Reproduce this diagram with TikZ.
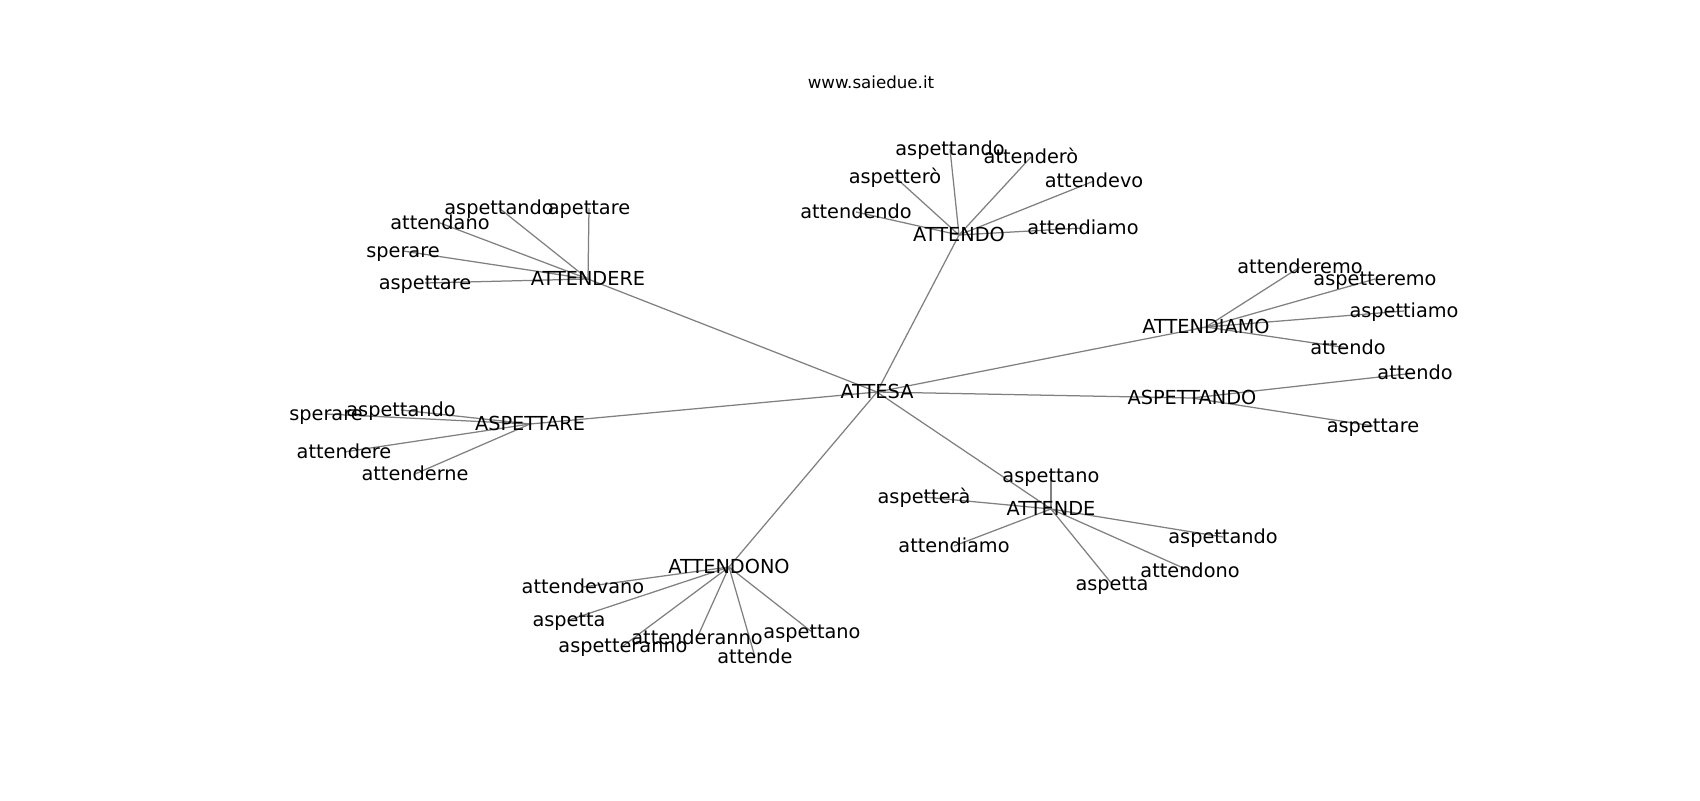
\documentclass[tikz,border=0pt]{standalone}
\usepackage{fontspec}
\setmainfont{DejaVu Sans}
\usetikzlibrary{backgrounds}
\tikzset{
  word/.style={inner sep=0pt, text height=1.1em, text depth=0.17em, font=\fontsize{13.9}{16}\selectfont},
  link/.style={draw=gray, line width=0.9pt}
}
\begin{document}
\begin{tikzpicture}[x=0.72pt, y=-0.72pt]
  \useasboundingbox (0,0) rectangle (1700,800);
  \node[inner sep=0pt, font=\fontsize{12}{14}\selectfont] (title) at (871,82) {www.saiedue.it};
  % centre and its groups
  \node[word] (attesa) at (877,392) {ATTESA};
  \node[word] (attendere) at (588,279) {ATTENDERE};
  \node[word] (aspettare) at (530,424) {ASPETTARE};
  \node[word] (attendo) at (959,235) {ATTENDO};
  \node[word] (attendiamo) at (1206,327) {ATTENDIAMO};
  \node[word] (aspettando) at (1192,398) {ASPETTANDO};
  \node[word] (attende) at (1051,509) {ATTENDE};
  \node[word] (attendono) at (729,567) {ATTENDONO};
  % ATTENDERE
  \node[word] (attendere-aspettando) at (499,208) {aspettando};
  \node[word] (attendere-apettare) at (589,208) {apettare};
  \node[word] (attendere-attendano) at (440,223) {attendano};
  \node[word] (attendere-sperare) at (403,251) {sperare};
  \node[word] (attendere-aspettare) at (425,283) {aspettare};
  % ASPETTARE
  \node[word] (aspettare-sperare) at (326,414) {sperare};
  \node[word] (aspettare-aspettando) at (401,410) {aspettando};
  \node[word] (aspettare-attendere) at (344,452) {attendere};
  \node[word] (aspettare-attenderne) at (415,474) {attenderne};
  % ATTENDO
  \node[word] (attendo-aspettando) at (950,149) {aspettando};
  \node[word] (attendo-attendero) at (1031,157) {attenderò};
  \node[word] (attendo-aspettero) at (895,177) {aspetterò};
  \node[word] (attendo-attendevo) at (1094,181) {attendevo};
  \node[word] (attendo-attendendo) at (856,212) {attendendo};
  \node[word] (attendo-attendiamo) at (1083,228) {attendiamo};
  % ATTENDIAMO
  \node[word] (attendiamo-attenderemo) at (1300,267) {attenderemo};
  \node[word] (attendiamo-aspetteremo) at (1375,279) {aspetteremo};
  \node[word] (attendiamo-aspettiamo) at (1404,311) {aspettiamo};
  \node[word] (attendiamo-attendo) at (1348,348) {attendo};
  % ASPETTANDO
  \node[word] (aspettando-attendo) at (1415,373) {attendo};
  \node[word] (aspettando-aspettare) at (1373,426) {aspettare};
  % ATTENDE
  \node[word] (attende-aspettano) at (1051,476) {aspettano};
  \node[word] (attende-aspettera) at (924,497) {aspetterà};
  \node[word] (attende-attendiamo) at (954,546) {attendiamo};
  \node[word] (attende-aspettando) at (1223,537) {aspettando};
  \node[word] (attende-attendono) at (1190,571) {attendono};
  \node[word] (attende-aspetta) at (1112,584) {aspetta};
  % ATTENDONO
  \node[word] (attendono-attendevano) at (583,587) {attendevano};
  \node[word] (attendono-aspetta) at (569,620) {aspetta};
  \node[word] (attendono-aspetteranno) at (623,646) {aspetteranno};
  \node[word] (attendono-attenderanno) at (697,638) {attenderanno};
  \node[word] (attendono-attende) at (755,657) {attende};
  \node[word] (attendono-aspettano) at (812,632) {aspettano};
  \begin{pgfonlayer}{background}
    \draw[link] (attesa.center) -- (attendere.center);
    \draw[link] (attesa.center) -- (aspettare.center);
    \draw[link] (attesa.center) -- (attendo.center);
    \draw[link] (attesa.center) -- (attendiamo.center);
    \draw[link] (attesa.center) -- (aspettando.center);
    \draw[link] (attesa.center) -- (attende.center);
    \draw[link] (attesa.center) -- (attendono.center);
    \draw[link] (attendere.center) -- (attendere-aspettando.center);
    \draw[link] (attendere.center) -- (attendere-apettare.center);
    \draw[link] (attendere.center) -- (attendere-attendano.center);
    \draw[link] (attendere.center) -- (attendere-sperare.center);
    \draw[link] (attendere.center) -- (attendere-aspettare.center);
    \draw[link] (aspettare.center) -- (aspettare-sperare.center);
    \draw[link] (aspettare.center) -- (aspettare-aspettando.center);
    \draw[link] (aspettare.center) -- (aspettare-attendere.center);
    \draw[link] (aspettare.center) -- (aspettare-attenderne.center);
    \draw[link] (attendo.center) -- (attendo-aspettando.center);
    \draw[link] (attendo.center) -- (attendo-attendero.center);
    \draw[link] (attendo.center) -- (attendo-aspettero.center);
    \draw[link] (attendo.center) -- (attendo-attendevo.center);
    \draw[link] (attendo.center) -- (attendo-attendendo.center);
    \draw[link] (attendo.center) -- (attendo-attendiamo.center);
    \draw[link] (attendiamo.center) -- (attendiamo-attenderemo.center);
    \draw[link] (attendiamo.center) -- (attendiamo-aspetteremo.center);
    \draw[link] (attendiamo.center) -- (attendiamo-aspettiamo.center);
    \draw[link] (attendiamo.center) -- (attendiamo-attendo.center);
    \draw[link] (aspettando.center) -- (aspettando-attendo.center);
    \draw[link] (aspettando.center) -- (aspettando-aspettare.center);
    \draw[link] (attende.center) -- (attende-aspettano.center);
    \draw[link] (attende.center) -- (attende-aspettera.center);
    \draw[link] (attende.center) -- (attende-attendiamo.center);
    \draw[link] (attende.center) -- (attende-aspettando.center);
    \draw[link] (attende.center) -- (attende-attendono.center);
    \draw[link] (attende.center) -- (attende-aspetta.center);
    \draw[link] (attendono.center) -- (attendono-attendevano.center);
    \draw[link] (attendono.center) -- (attendono-aspetta.center);
    \draw[link] (attendono.center) -- (attendono-aspetteranno.center);
    \draw[link] (attendono.center) -- (attendono-attenderanno.center);
    \draw[link] (attendono.center) -- (attendono-attende.center);
    \draw[link] (attendono.center) -- (attendono-aspettano.center);
  \end{pgfonlayer}
\end{tikzpicture}
\end{document}
